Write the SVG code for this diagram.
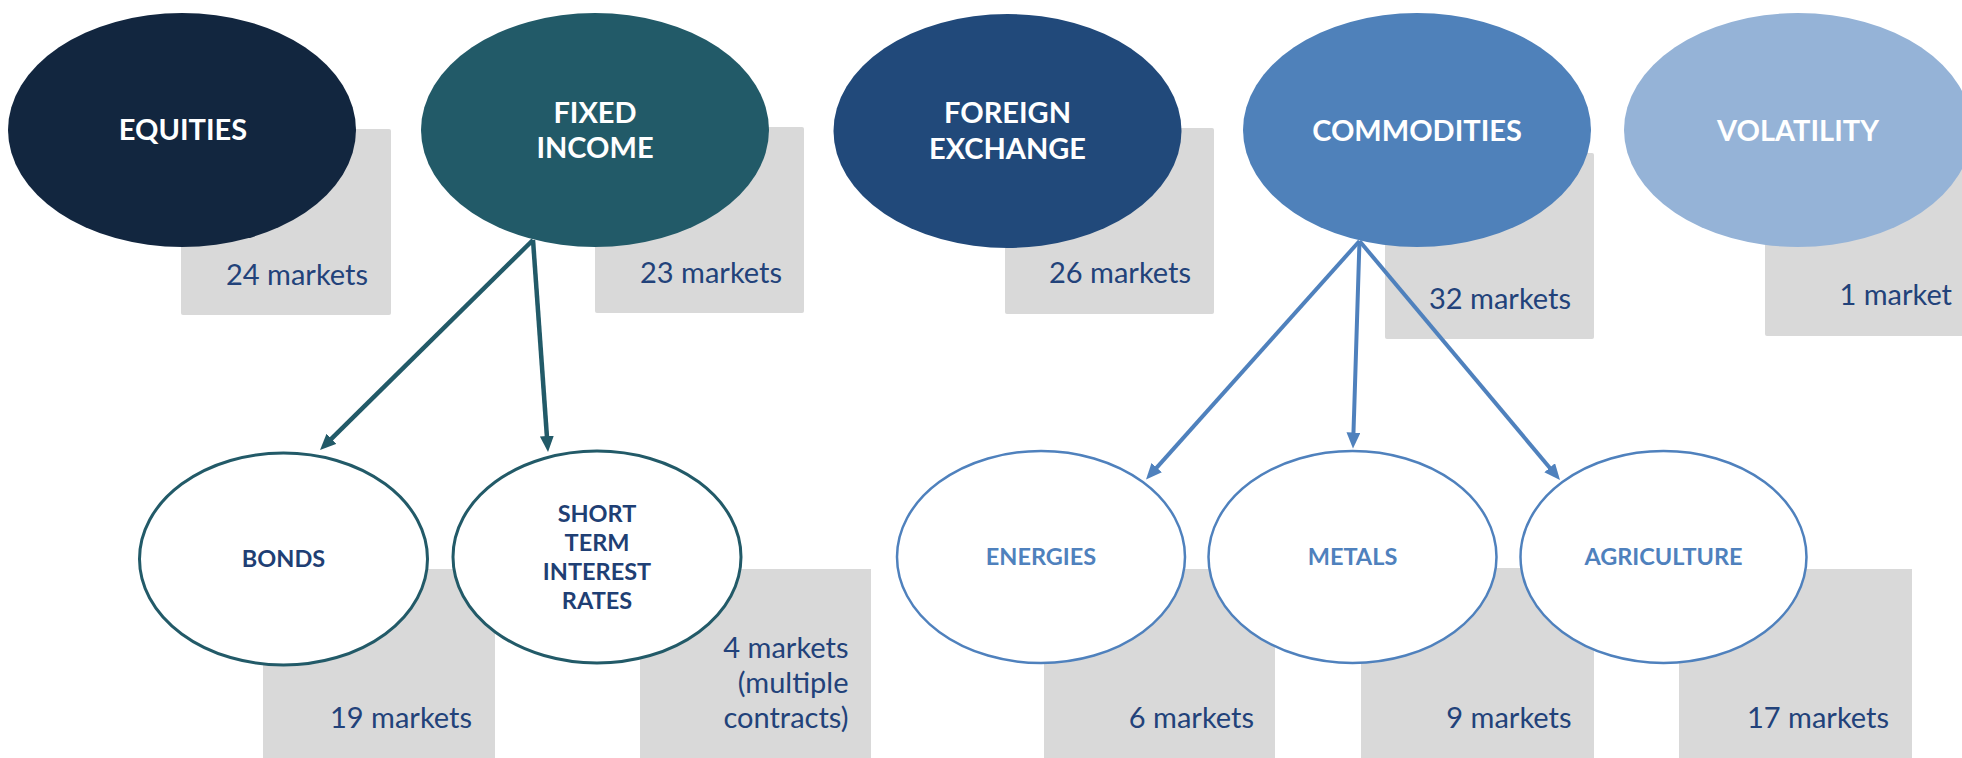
<svg xmlns="http://www.w3.org/2000/svg" width="1962" height="758" viewBox="0 0 1962 758">
<style>
.box{fill:#D9D9D9}
.cnt{font-family:Lato,"Open Sans","Liberation Sans",sans-serif;font-size:29px;fill:#22427A;text-anchor:end}
.head{font-family:Lato,"Open Sans","Liberation Sans",sans-serif;font-weight:bold;font-size:29px;fill:#FFFFFF;text-anchor:middle}
.sub{font-family:Lato,"Open Sans","Liberation Sans",sans-serif;font-weight:bold;font-size:23.5px;text-anchor:middle}
.subT{fill:#FFFFFF;stroke:#225A68;stroke-width:3}
.subB{fill:#FFFFFF;stroke:#4F81BD;stroke-width:2.5}
.lnT{stroke:#225A68;stroke-width:4.5;fill:none}
.lnB{stroke:#4F81BD;stroke-width:4;fill:none}
</style>
<defs>
<marker id="ahT" markerUnits="userSpaceOnUse" markerWidth="18" markerHeight="16" refX="3" refY="7" orient="auto"><path d="M0,0 L16,7 L0,14 z" fill="#225A68"/></marker>
<marker id="ahB" markerUnits="userSpaceOnUse" markerWidth="18" markerHeight="16" refX="3" refY="7" orient="auto"><path d="M0,0 L16,7 L0,14 z" fill="#4F81BD"/></marker>
</defs>
<rect width="1962" height="758" fill="#FFFFFF"/>

<g id="equities">
<rect class="box" x="181" y="129" width="210" height="186" rx="2"/>
<text class="cnt" x="368" y="285">24 markets</text>
<ellipse cx="182" cy="130" rx="174" ry="117" fill="#12263F"/>
<text class="head" x="183" y="140">EQUITIES</text>
</g>

<g id="fixed-income">
<rect class="box" x="595" y="127" width="209" height="186" rx="2"/>
<text class="cnt" x="782" y="283">23 markets</text>
<ellipse cx="595" cy="130" rx="174" ry="117" fill="#225A68"/>
<text class="head" x="595" y="123">FIXED</text>
<text class="head" x="595" y="158">INCOME</text>
</g>

<g id="foreign-exchange">
<rect class="box" x="1005" y="128" width="209" height="186" rx="2"/>
<text class="cnt" x="1191" y="283">26 markets</text>
<ellipse cx="1007.5" cy="131" rx="174" ry="117" fill="#21497A"/>
<text class="head" x="1007.5" y="123">FOREIGN</text>
<text class="head" x="1007.5" y="159">EXCHANGE</text>
</g>

<g id="commodities">
<rect class="box" x="1385" y="153" width="209" height="186" rx="2"/>
<text class="cnt" x="1571" y="309">32 markets</text>
<ellipse cx="1417" cy="130" rx="174" ry="117" fill="#4F81BA"/>
<text class="head" x="1417" y="140.5">COMMODITIES</text>
</g>

<g id="volatility">
<rect class="box" x="1765" y="150" width="210" height="186" rx="2"/>
<text class="cnt" x="1952" y="305">1 market</text>
<ellipse cx="1798" cy="130" rx="174" ry="117" fill="#95B3D7"/>
<text class="head" x="1798" y="140.5">VOLATILITY</text>
</g>

<g id="connectors">
<line class="lnT" x1="533" y1="240" x2="329.3" y2="440.9" marker-end="url(#ahT)"/>
<line class="lnT" x1="533" y1="240" x2="547.1" y2="439" marker-end="url(#ahT)"/>
<line class="lnB" x1="1359.5" y1="241" x2="1154.7" y2="469.8" marker-end="url(#ahB)"/>
<line class="lnB" x1="1359.5" y1="241" x2="1353.4" y2="435.5" marker-end="url(#ahB)"/>
<line class="lnB" x1="1359.5" y1="241" x2="1551.6" y2="470" marker-end="url(#ahB)"/>
</g>

<g id="bonds">
<rect class="box" x="263" y="569" width="232" height="189"/>
<text class="cnt" x="472" y="728">19 markets</text>
<ellipse class="subT" cx="283.5" cy="559" rx="144" ry="106"/>
<text class="sub" x="283.5" y="567" fill="#1F3F74">BONDS</text>
</g>

<g id="short-term-interest-rates">
<rect class="box" x="640" y="569" width="231" height="189"/>
<text class="cnt" x="848.5" y="657.5">4 markets</text>
<text class="cnt" x="848.5" y="693">(multiple</text>
<text class="cnt" x="848.5" y="728">contracts)</text>
<ellipse class="subT" cx="597" cy="557" rx="144" ry="106"/>
<text class="sub" x="597" y="521.5" fill="#1F3F74">SHORT</text>
<text class="sub" x="597" y="551" fill="#1F3F74">TERM</text>
<text class="sub" x="597" y="580" fill="#1F3F74">INTEREST</text>
<text class="sub" x="597" y="608.5" fill="#1F3F74">RATES</text>
</g>

<g id="energies">
<rect class="box" x="1044" y="569" width="231" height="189"/>
<text class="cnt" x="1254" y="728">6 markets</text>
<ellipse class="subB" cx="1041" cy="557" rx="144" ry="106"/>
<text class="sub" x="1041" y="565" fill="#4F81BD">ENERGIES</text>
</g>

<g id="metals">
<rect class="box" x="1361" y="568" width="233" height="190"/>
<text class="cnt" x="1571.5" y="728">9 markets</text>
<ellipse class="subB" cx="1352.5" cy="557" rx="144" ry="106"/>
<text class="sub" x="1352.5" y="565" fill="#4F81BD">METALS</text>
</g>

<g id="agriculture">
<rect class="box" x="1679" y="569" width="233" height="189"/>
<text class="cnt" x="1889" y="728">17 markets</text>
<ellipse class="subB" cx="1663.5" cy="557" rx="143" ry="106"/>
<text class="sub" x="1663.5" y="565" fill="#4F81BD">AGRICULTURE</text>
</g>
</svg>
